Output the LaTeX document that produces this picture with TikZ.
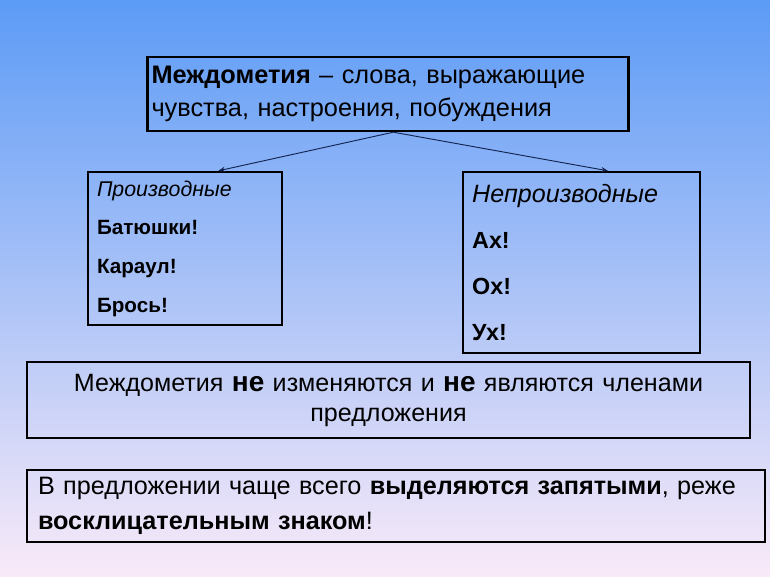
\documentclass[tikz,border=0pt]{standalone}
\usepackage{fontspec}
\setmainfont{Liberation Sans}
\usetikzlibrary{arrows.meta,calc,positioning}
\definecolor{bgtop}{RGB}{92,155,246}
\definecolor{bgmid}{RGB}{140,188,246}
\definecolor{bgbot}{RGB}{249,234,248}
\definecolor{arrowblue}{RGB}{20,36,80}
\tikzset{
    x=0.75pt, y=-0.75pt,
    box/.style = {rectangle, draw=black, line width=1.8pt, inner sep=0pt},
    arr/.style = {-{Stealth[length=5pt,width=4pt]}, draw=arrowblue, line width=0.7pt}
}
\begin{document}
\begin{tikzpicture}
    \useasboundingbox (0,0) rectangle (770,577);
    \shade[top color=bgtop, middle color=bgmid, bottom color=bgbot] (0,0) rectangle (770,577);

    \node[box, minimum width=360.75pt, minimum height=55.5pt, text width=354.75pt, align=left,
          font=\fontsize{19}{24.5}\selectfont] (defn) at (388,94)
          {\textbf{Междометия} – слова, выражающие\\ чувства, настроения, побуждения};
    \node[box, minimum width=145.5pt, minimum height=114.75pt, text width=132pt, align=left,
          font=\bfseries\fontsize{15.5}{29}\selectfont] (deriv) at (185,248.5)
          {{\mdseries\itshape\fontsize{16}{29}\selectfont Производные}\\ Батюшки!\\ Караул!\\ Брось!};
    \node[box, minimum width=177.75pt, minimum height=135.75pt, text width=164pt, align=left,
          font=\bfseries\fontsize{17.5}{34.5}\selectfont] (nonderiv) at (581.5,262.5)
          {{\mdseries\itshape\fontsize{18.8}{34.5}\selectfont Непроизводные}\\ Ах!\\ Ох!\\ Ух!};
    \node[box, minimum width=542.25pt, minimum height=57pt, text width=540pt, align=center,
          font=\fontsize{18.8}{22.5}\selectfont] (rule) at (388.5,400)
          {Междометия {\bfseries\fontsize{21}{22.5}\selectfont не} изменяются и {\bfseries\fontsize{21}{22.5}\selectfont не} являются членами\\ предложения};
    \node[box, minimum width=553.5pt, minimum height=54pt, text width=537pt, align=left,
          font=\fontsize{18.9}{26}\selectfont] (punct) at (396,506)
          {В предложении чаще всего \textbf{выделяются запятыми}, реже\\ \textbf{восклицательным знаком}!};

    \draw[arr] ([xshift=4pt]defn.south) -- ($(deriv.north west)!0.67!(deriv.north east)$);
    \draw[arr] ([xshift=4pt]defn.south) -- ($(nonderiv.north west)!0.61!(nonderiv.north east)$);
\end{tikzpicture}
\end{document}
